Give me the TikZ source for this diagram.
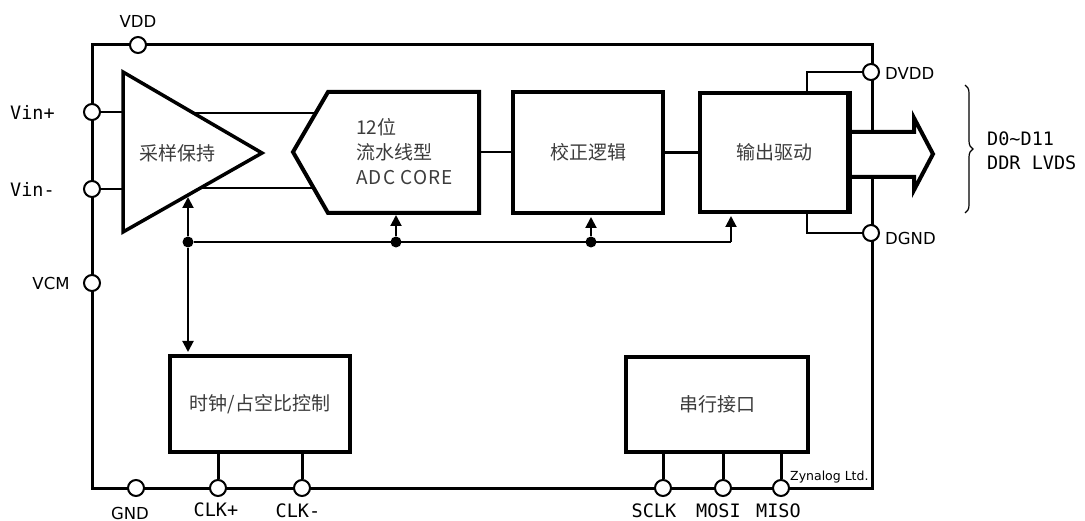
\documentclass[tikz,border=0pt]{standalone}
\usepackage{fontspec}
\setmainfont{DejaVu Sans}
\newfontfamily\cjk{Noto Sans CJK SC}
\newfontfamily\monof{DejaVu Sans Mono}
\usetikzlibrary{arrows.meta,decorations.pathreplacing}
\definecolor{txtgray}{RGB}{60,60,60}
\begin{document}
\begin{tikzpicture}[x=1pt,y=-1pt,
  frameline/.style={line width=3pt},
  blk/.style={draw, line width=4pt, fill=white, inner sep=0pt},
  wire/.style={line width=2.5pt},
  stub/.style={line width=3pt},
  sig/.style={line width=2pt, -{Triangle[length=11pt,width=11pt]}, shorten >=2pt},
  pin/.style={circle, draw, line width=2pt, fill=white, minimum size=16pt, inner sep=0pt},
  jdot/.style={circle, fill=black, minimum size=11pt, inner sep=0pt},
  cjktxt/.style={font=\cjk\fontsize{19}{25}\selectfont, text=txtgray},
  pinlbl/.style={font=\fontsize{16.5}{19}\selectfont, inner sep=0pt},
  monolbl/.style={font=\monof\fontsize{18.5}{24}\selectfont, inner sep=0pt}
]
\useasboundingbox (0,0) rectangle (1085,521);

% outer frame
\draw[frameline] (92,45) rectangle (872,488);

% named coordinates
\coordinate (triTL) at (123,72);
\coordinate (triBL) at (123,232);
\coordinate (triTip) at (262,153);
\coordinate (triIn1) at (123,112);
\coordinate (triIn2) at (123,189);
\coordinate (triO1) at (190,113);
\coordinate (triO2) at (198,188);
\coordinate (triB) at (188,197);
\coordinate (adcL) at (293,152);
\coordinate (adcTL) at (328,92);
\coordinate (adcTR) at (479,92);
\coordinate (adcBR) at (479,213);
\coordinate (adcBL) at (328,213);
\coordinate (adcR) at (479,152);
\coordinate (adcI1) at (318,113);
\coordinate (adcI2) at (318,188);
\coordinate (busend) at (731,242);

% wires behind shapes
\draw[wire] (triO1) -- (adcI1);
\draw[wire] (triO2) -- (adcI2);
\draw[wire] (adcR) -- (588,152);

% sample & hold triangle
\draw[line width=3.5pt, fill=white, line join=miter] (triTL) -- (triBL) -- (triTip) -- cycle;
\node[cjktxt] (sh) at (177,153) {采样保持};

% ADC core
\draw[line width=4pt, fill=white, line join=miter] (adcL) -- (adcTL) -- (adcTR) -- (adcBR) -- (adcBL) -- cycle;
\node[cjktxt, anchor=west, align=left, inner sep=0pt] (adct) at (356,152) {12位\\流水线型\\{\addfontfeature{LetterSpace=6}ADC CORE}};

% blocks
\node[blk, minimum width=150pt, minimum height=121pt, cjktxt] (cal) at (588,152.5) {校正逻辑};
\node[blk, minimum width=148pt, minimum height=119pt, cjktxt] (outd) at (774,152.5) {输出驱动};
\node[blk, minimum width=180pt, minimum height=96pt, cjktxt] (clk) at (260,404) {时钟/占空比控制};
\node[blk, minimum width=182pt, minimum height=95pt, cjktxt] (spi) at (717,404.5) {串行接口};

% data path wires
\draw[wire] (cal.east) -- (outd.west);

% pins
\node[pin] (pVDD) at (138,45) {};
\node[pin] (pVinP) at (92,112) {};
\node[pin] (pVinN) at (92,189) {};
\node[pin] (pVCM) at (92,283) {};
\node[pin] (pGND) at (136,488) {};
\node[pin] (pCLKP) at (218,488) {};
\node[pin] (pCLKN) at (302,488) {};
\node[pin] (pSCLK) at (663,488) {};
\node[pin] (pMOSI) at (723,488) {};
\node[pin] (pMISO) at (781,488) {};

% input wires
\draw[wire] (pVinP) -- (triIn1);
\draw[wire] (pVinN) -- (triIn2);

% supply wires of the output driver
\coordinate (dvTop) at (807,72);
\coordinate (dgBot) at (807,233);
\draw[wire] (outd.north -| dvTop) -- (dvTop) -- (871,72);
\draw[wire] (outd.south -| dgBot) -- (dgBot) -- (871,233);

% big output arrow
\draw[line width=4pt, fill=white, line join=miter] (848,132) -- (914,132) -- (914,118) -- (933,154) -- (914,190) -- (914,177) -- (848,177);
\draw[line width=4.2pt] (outd.north east) -- (outd.south east);

\node[pin] (pDVDD) at (871,72) {};
\node[pin] (pDGND) at (871,233) {};

% clock bus
\node[jdot] (d0) at (188,242) {};
\node[jdot] (d1) at (396,242) {};
\node[jdot] (d2) at (591,242) {};
\draw[sig, shorten >=0pt] (d0) -- (triB);
\draw[line width=2pt] (d0) -- (busend);
\draw[sig] (busend) -- (busend |- outd.south);
\draw[sig] (d1) -- (d1 |- adcBL);
\draw[sig] (d2) -- (d2 |- cal.south);
\draw[sig] (d0) -- (d0 |- clk.north);

% pin stubs
\draw[stub] (clk.south -| pCLKP) -- (pCLKP);
\draw[stub] (clk.south -| pCLKN) -- (pCLKN);
\draw[stub] (spi.south -| pSCLK) -- (pSCLK);
\draw[stub] (spi.south -| pMOSI) -- (pMOSI);
\draw[stub] (spi.south -| pMISO) -- (pMISO);

% labels
\node[pinlbl] (lVDD) at (138,21) {VDD};
\node[monolbl, anchor=west] (lVinP) at (10,112) {Vin+};
\node[monolbl, anchor=west] (lVinN) at (10,189) {Vin-};
\node[pinlbl] (lVCM) at (51,283) {VCM};
\node[pinlbl] (lGND) at (130,513) {GND};
\node[monolbl, anchor=west] (lCLKP) at (193.5,510) {CLK+};
\node[monolbl, anchor=west] (lCLKN) at (275.5,511) {CLK-};
\node[monolbl, anchor=west] (lSCLK) at (631.5,511) {SCLK};
\node[monolbl, anchor=west] (lMOSI) at (696,511) {MOSI};
\node[monolbl, anchor=west] (lMISO) at (756,511) {MISO};
\node[pinlbl, anchor=west] (lDVDD) at (885,73) {DVDD};
\node[pinlbl, anchor=west] (lDGND) at (885,238) {DGND};
\node[monolbl, anchor=west] (lD1) at (987,139) {D0\char`~D11};
\node[monolbl, anchor=west] (lD2) at (987,163) {DDR LVDS};
\node[font=\fontsize{12.5}{14}\selectfont, inner sep=0pt, anchor=base west] (logo) at (790,480) {Zynalog Ltd.};

% brace
\draw[line width=1.2pt, decorate, decoration={brace, amplitude=8pt}] (965,85) -- (965,213);
\end{tikzpicture}
\end{document}
